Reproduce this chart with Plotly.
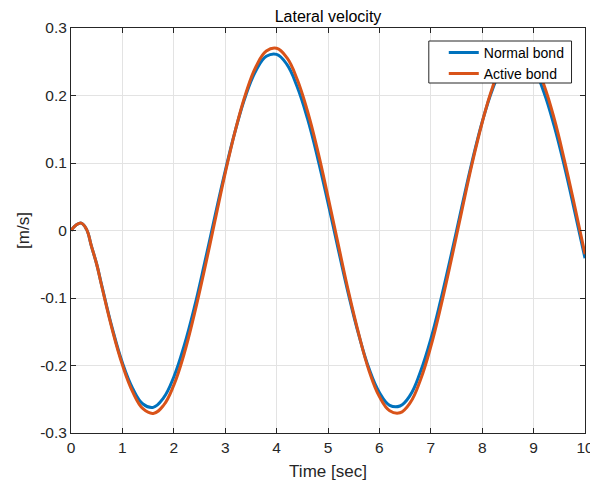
import plotly.graph_objects as go

time_s = [0.0, 0.1, 0.2, 0.3, 0.4, 0.5, 0.6, 0.8, 1.0, 1.2, 1.4, 1.6, 1.8, 2.0, 2.2, 2.4, 2.6, 2.8,
          3.0, 3.2, 3.4, 3.6, 3.8, 4.0, 4.2, 4.4, 4.6, 4.8, 5.0, 5.2, 5.4, 5.6, 5.8, 6.0, 6.2,
          6.4, 6.6, 6.8, 7.0, 7.2, 7.4, 7.6, 7.8, 8.0, 8.2, 8.4, 8.6, 8.8, 9.0, 9.2, 9.4, 9.6,
          9.8, 10.0]

normal_bond = [0.0, 0.008, 0.011, 0.002, -0.024, -0.050, -0.082, -0.144, -0.196, -0.234, -0.257,
               -0.262, -0.248, -0.217, -0.171, -0.114, -0.048, 0.021, 0.088, 0.149, 0.200, 0.237,
               0.258, 0.261, 0.246, 0.213, 0.166, 0.107, 0.041, -0.028, -0.095, -0.155, -0.205,
               -0.240, -0.259, -0.260, -0.244, -0.209, -0.161, -0.101, -0.035, 0.034, 0.101,
               0.161, 0.209, 0.243, 0.260, 0.259, 0.241, 0.205, 0.155, 0.095, 0.028, -0.041]

active_bond = [0.0, 0.008, 0.011, 0.002, -0.024, -0.050, -0.083, -0.146, -0.199, -0.239, -0.264,
               -0.271, -0.259, -0.229, -0.183, -0.124, -0.057, 0.014, 0.085, 0.149, 0.203, 0.243,
               0.266, 0.270, 0.256, 0.224, 0.177, 0.118, 0.050, -0.021, -0.091, -0.154, -0.208,
               -0.246, -0.267, -0.270, -0.255, -0.221, -0.172, -0.111, -0.043, 0.028, 0.098,
               0.160, 0.212, 0.249, 0.268, 0.269, 0.252, 0.216, 0.166, 0.104, 0.036, -0.035]

x_ticks = [0, 1, 2, 3, 4, 5, 6, 7, 8, 9, 10]
x_tick_labels = ["0", "1", "2", "3", "4", "5", "6", "7", "8", "9", "10"]
y_ticks = [-0.3, -0.2, -0.1, 0.0, 0.1, 0.2, 0.3]
y_tick_labels = ["-0.3", "-0.2", "-0.1", "0", "0.1", "0.2", "0.3"]

FONT = "Liberation Sans, Arial, sans-serif"
AX = "#262626"
GRID = "#e3e3e3"

# The page body has an 8px margin, so the figure is sized to fit the 598x484 window.
W, H = 590, 476
PL, PT, PW, PH = 62.5, 19.7, 515.0, 405.0   # plot area in figure pixels


def px_to_paper_x(px):
    return (px - 8 - PL) / PW


def px_to_paper_y(py):
    return (PT + PH - (py - 8)) / PH


fig = go.Figure()
fig.add_trace(go.Scatter(x=time_s, y=normal_bond, mode="lines", name="Normal bond",
                         line=dict(color="#0072BD", width=3, shape="spline", smoothing=1.2)))
fig.add_trace(go.Scatter(x=time_s, y=active_bond, mode="lines", name="Active bond",
                         line=dict(color="#D95319", width=3, shape="spline", smoothing=1.2)))

axis_common = dict(showline=True, linecolor=AX, linewidth=1, mirror="ticks", ticks="inside",
                   ticklen=5, tickcolor=AX, showgrid=True, gridcolor=GRID, gridwidth=1,
                   zeroline=False, automargin=False,
                   tickfont=dict(family=FONT, size=15.5, color=AX))

# legend box (MATLAB-style, tight around the entries)
fig.add_shape(type="rect", xref="paper", yref="paper", layer="above",
              x0=px_to_paper_x(429), x1=px_to_paper_x(572),
              y0=px_to_paper_y(82.7), y1=px_to_paper_y(40.7),
              fillcolor="white", line=dict(color=AX, width=1))

fig.update_layout(
    width=W, height=H,
    margin=dict(l=PL, r=W - PL - PW, t=PT, b=H - PT - PH, pad=0),
    paper_bgcolor="white", plot_bgcolor="white",
    font=dict(family=FONT, size=15, color=AX),
    title=dict(text="Lateral velocity", x=0.5, xref="paper", xanchor="center",
               y=1 - 2.5 / H, yref="container", yanchor="top", pad=dict(t=0, b=0),
               font=dict(family=FONT, size=16, color="black")),
    xaxis=dict(range=[0, 10], tickvals=x_ticks, ticktext=x_tick_labels,
               title=dict(text="Time [sec]", font=dict(family=FONT, size=17, color=AX), standoff=10),
               **axis_common),
    yaxis=dict(range=[-0.3, 0.3], tickvals=y_ticks, ticktext=y_tick_labels,
               title=dict(text="[m/s]", font=dict(family=FONT, size=17, color=AX), standoff=6),
               **axis_common),
    legend=dict(x=px_to_paper_x(444), y=px_to_paper_y(36.5), xanchor="left", yanchor="top",
                bgcolor="rgba(0,0,0,0)", borderwidth=0,
                font=dict(family=FONT, size=14, color="black"),
                tracegroupgap=0),
    showlegend=True,
)

fig.write_html("out.html")
